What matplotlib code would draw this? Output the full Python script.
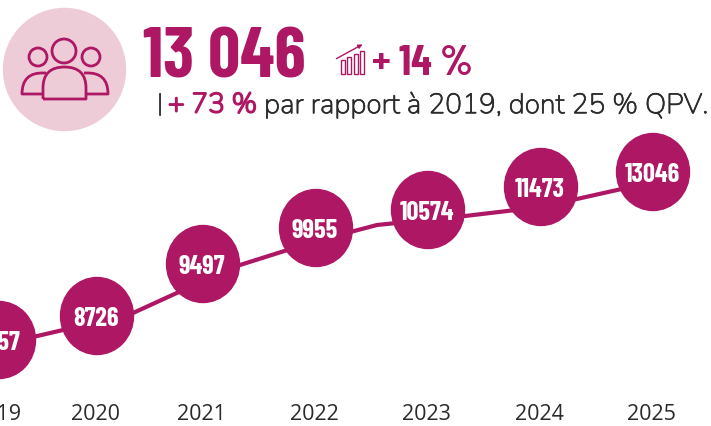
import matplotlib
matplotlib.use('Agg')
import matplotlib.pyplot as plt
import matplotlib.patheffects as pe
from matplotlib.patches import Circle, Ellipse, PathPatch, Rectangle
from matplotlib.path import Path

# values printed in the bubbles and where each bubble sits on the page
years = ['2019', '2020', '2021', '2022', '2023', '2024', '2025']
labels = ['7557', '8726', '9497', '9955', '10574', '11473', '13046']
year_x = [-1, 97, 203, 316, 428, 541, 653]
level_y = [340, 316, 264, 228, 210, 187, 172]

# the line does not go through the bubble centres
line_x = [-1, 97, 133, 203, 240, 316, 377, 465, 541, 653]
line_y = [345, 322, 313, 281, 265, 241, 225, 216, 207, 182]

bars_h = [14, 17, 20, 23]

PINK = '#ae1763'
LIGHT = '#edccd8'
DARK = '#2b2b2b'
NARROW = ['Barlow Condensed', 'Liberation Sans']
BODY = ['Nunito', 'Lato']


def thick(color, w):
    return [pe.withStroke(linewidth=w, foreground=color)]


fig = plt.figure(figsize=(7.11, 4.26), dpi=100)
ax = fig.add_axes([0, 0, 1, 1])
ax.set_xlim(0, 711)
ax.set_ylim(426, 0)
ax.axis('off')

# line and bubbles
ax.plot(line_x, line_y, color=PINK, lw=3, zorder=1, solid_joinstyle='round')
for x, y, lab in zip(year_x, level_y, labels):
    ax.add_patch(Ellipse((x, y), 73, 77, color=PINK, zorder=2))
    ax.text(x - 1, y + 3, lab, color='white', fontsize=19, fontweight='bold', family=NARROW,
            ha='center', va='center', zorder=3)
for x, yr in zip(year_x, years):
    ax.text(x - 2, 415, yr, color=DARK, fontsize=15.5, family='Open Sans',
            ha='center', va='center')

# header
ax.add_patch(Circle((64.5, 69.5), 61, color=LIGHT, zorder=1))
ax.text(143, 59, '13 046', color=PINK, fontsize=51, fontweight='bold', family=NARROW,
        ha='left', va='center')
ax.text(372, 64, '+ 14 %', color=PINK, fontsize=30.5, fontweight='bold', family=NARROW,
        ha='left', va='center')
ax.text(157, 105, '|', color=DARK, fontsize=18, family=BODY, ha='left', va='center',
        path_effects=thick(DARK, 0.4))
ax.text(168, 105, '+ 73 %', color=PINK, fontsize=20, family=BODY,
        ha='left', va='center', path_effects=thick(PINK, 1.3))
ax.text(264, 105, 'par rapport à 2019, dont 25 % QPV.', color=DARK, fontsize=20.3, family=BODY,
        ha='left', va='center', path_effects=thick(DARK, 0.5))

# people icon
for cx, cy, r in [(38, 57, 9), (64, 51, 12), (91, 57, 9)]:
    ax.add_patch(Circle((cx, cy), r, fill=False, ec=PINK, lw=2, zorder=3))
curve = [Path.MOVETO, Path.LINETO, Path.CURVE3, Path.CURVE3, Path.LINETO]
for pts in [[(42, 94), (22, 94), (22, 72), (44, 73), (46, 73)],
            [(87, 94), (108, 94), (108, 72), (86, 73), (84, 73)]]:
    ax.add_patch(PathPatch(Path(pts, curve), fill=False, ec=PINK, lw=2, zorder=3, joinstyle='round'))
body = Path([(43, 99), (43, 88), (43, 67), (64.5, 67), (86, 67), (86, 88), (86, 99), (43, 99)],
            [Path.MOVETO, Path.LINETO, Path.CURVE3, Path.CURVE3, Path.CURVE3, Path.CURVE3, Path.LINETO, Path.LINETO])
ax.add_patch(PathPatch(body, fc=LIGHT, ec=PINK, lw=2, zorder=4, joinstyle='round'))

# growth icon
for i, h in enumerate(bars_h):
    ax.add_patch(Rectangle((341 + i * 6.4, 74 - h), 4, h, fill=False, ec=PINK, lw=1))
ax.annotate('', xy=(365, 43), xytext=(334, 60),
            arrowprops=dict(arrowstyle='-|>', color=PINK, lw=1, mutation_scale=6))

fig.savefig('out.png', dpi=100)
